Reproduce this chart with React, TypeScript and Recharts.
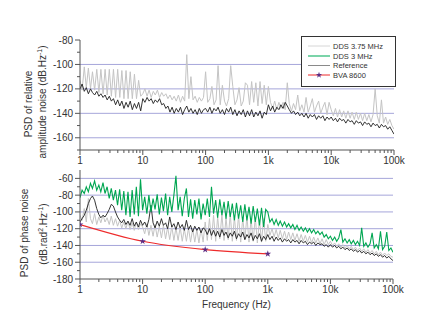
import { LineChart, Line, XAxis, YAxis, ReferenceLine, Legend, Symbols } from "recharts";

// frequency grid (Hz), 30 points per decade
const freqHz = [
  1, 1.08, 1.17, 1.26, 1.36, 1.47, 1.58, 1.71, 1.85, 2, 2.15, 2.33, 2.51, 2.71, 2.93, 3.16, 3.41, 3.69, 3.98, 4.3, 4.64, 5.01, 5.41, 5.84, 6.31, 6.81, 7.36, 7.94, 8.58, 9.26,
  10, 10.8, 11.7, 12.6, 13.6, 14.7, 15.8, 17.1, 18.5, 20, 21.5, 23.3, 25.1, 27.1, 29.3, 31.6, 34.1, 36.9, 39.8, 43, 46.4, 50.1, 54.1, 58.4, 63.1, 68.1, 73.6, 79.4, 85.8, 92.6,
  100, 108, 117, 126, 136, 147, 158, 171, 185, 200, 215, 233, 251, 271, 293, 316, 341, 369, 398, 430, 464, 501, 541, 584, 631, 681, 736, 794, 858, 926,
  1000, 1080, 1170, 1260, 1360, 1470, 1580, 1710, 1850, 2000, 2150, 2330, 2510, 2710, 2930, 3160, 3410, 3690, 3980, 4300, 4640, 5010, 5410, 5840, 6310, 6810, 7360, 7940, 8580, 9260,
  10000, 10800, 11700, 12600, 13600, 14700, 15800, 17100, 18500, 20000, 21500, 23300, 25100, 27100, 29300, 31600, 34100, 36900, 39800, 43000, 46400, 50100, 54100, 58400, 63100, 68100, 73600, 79400, 85800, 92600,
  100000,
];

// top panel: PSD of relative amplitude noise (dB.Hz-1)
const ampDds375 = [
  -113, -121, -102, -119, -103, -120, -106, -121, -104, -123, -104, -124, -104, -125, -104, -126, -104, -127, -104, -127, -105, -128, -105, -128, -106, -128, -108, -128, -113, -126,
  -124, -120, -126, -121, -127, -122, -125, -121, -127, -123, -126, -124, -128, -125, -129, -126, -130, -125, -131, -126, -130, -92, -128, -110, -129, -126, -131, -127, -130, -127,
  -106, -131, -128, -118, -133, -129, -101, -133, -117, -130, -134, -128, -101, -118, -133, -129, -119, -134, -130, -115, -117, -133, -114, -131, -115, -134, -114, -132, -117, -133,
  -118, -131, -136, -130, -137, -131, -136, -131, -137, -115, -132, -138, -132, -137, -125, -138, -133, -139, -127, -139, -134, -128, -139, -134, -130, -140, -135, -131, -141, -131,
  -137, -142, -136, -143, -137, -143, -138, -144, -138, -144, -139, -145, -139, -145, -140, -146, -140, -146, -141, -147, -141, -120, -142, -148, -129, -148, -143, -149, -145, -150,
  -153,
];
const ampReference = [
  -120, -116, -122, -119, -124, -120, -123, -125, -122, -126, -124, -127, -125, -129, -126, -130, -128, -133, -129, -134, -130, -136, -131, -135, -130, -137, -132, -136, -131, -138,
  -128, -131, -127, -130, -128, -132, -129, -131, -128, -133, -132, -136, -134, -139, -135, -140, -136, -139, -135, -141, -137, -134, -139, -136, -140, -137, -141, -136, -140, -137,
  -136, -139, -135, -140, -136, -138, -135, -140, -137, -141, -136, -139, -135, -141, -137, -142, -138, -141, -137, -143, -138, -142, -137, -143, -139, -142, -138, -144, -139, -141,
  -133, -138, -134, -139, -135, -137, -133, -136, -131, -134, -137, -140, -138, -141, -139, -142, -140, -143, -140, -144, -141, -143, -141, -145, -142, -144, -142, -146, -143, -145,
  -143, -146, -144, -147, -144, -146, -145, -148, -145, -147, -146, -149, -146, -148, -147, -150, -147, -149, -148, -151, -148, -150, -149, -152, -149, -151, -150, -153, -151, -154,
  -157,
];

// bottom panel: PSD of phase noise (dB.rad2.Hz-1)
const phaseDds375 = [
  -104, -110, -96, -112, -84, -108, -114, -102, -115, -106, -113, -104, -112, -107, -115, -105, -116, -108, -117, -110, -119, -112, -120, -111, -121, -113, -122, -112, -121, -114,
  -118, -126, -114, -128, -116, -129, -115, -130, -117, -131, -116, -132, -118, -133, -117, -134, -119, -134, -118, -135, -120, -135, -119, -136, -120, -136, -121, -137, -120, -136,
  -112, -134, -108, -133, -104, -135, -106, -132, -103, -134, -107, -133, -102, -135, -106, -134, -104, -136, -107, -133, -105, -136, -108, -135, -106, -137, -109, -136, -108, -135,
  -115, -128, -120, -130, -121, -131, -122, -132, -123, -133, -124, -133, -125, -134, -126, -135, -127, -135, -128, -136, -129, -137, -130, -137, -131, -138, -132, -139, -133, -139,
  -135, -140, -137, -141, -138, -142, -139, -143, -140, -144, -141, -145, -142, -146, -143, -147, -144, -148, -145, -149, -146, -150, -147, -151, -148, -152, -149, -152, -150, -153,
  -154,
];
const phaseDds3 = [
  -83, -74, -78, -70, -76, -66, -72, -63, -74, -68, -76, -65, -78, -70, -84, -72, -86, -74, -92, -73, -98, -75, -104, -76, -106, -74, -103, -70, -105, -61,
  -98, -82, -102, -80, -100, -84, -97, -79, -103, -83, -99, -78, -104, -82, -100, -80, -57, -98, -82, -105, -84, -72, -106, -85, -108, -86, -103, -84, -109, -90,
  -104, -84, -106, -70, -102, -86, -107, -85, -104, -88, -108, -87, -106, -90, -110, -89, -108, -92, -112, -91, -110, -94, -114, -93, -112, -96, -116, -95, -118, -97,
  -100, -112, -108, -115, -109, -116, -111, -117, -112, -118, -114, -119, -115, -121, -116, -122, -118, -123, -119, -124, -120, -125, -121, -126, -123, -127, -124, -130, -127, -132,
  -129, -134, -130, -135, -131, -121, -136, -132, -137, -133, -138, -134, -139, -135, -140, -119, -141, -137, -142, -138, -125, -143, -139, -144, -123, -145, -141, -124, -146, -143,
  -148,
];
const phaseReference = [
  -112, -108, -104, -98, -90, -84, -81, -86, -96, -103, -107, -104, -106, -102, -97, -91, -93, -100, -106, -110, -113, -109, -115, -111, -116, -108, -117, -112, -118, -110,
  -116, -112, -118, -109, -92, -113, -119, -111, -117, -108, -116, -113, -120, -106, -118, -114, -121, -112, -119, -115, -122, -110, -121, -116, -124, -117, -122, -118, -125, -119,
  -121, -127, -120, -128, -122, -129, -123, -130, -121, -128, -124, -131, -125, -129, -123, -132, -126, -130, -124, -133, -127, -131, -125, -134, -128, -132, -126, -135, -129, -133,
  -127, -133, -129, -135, -130, -134, -131, -136, -132, -135, -133, -137, -133, -136, -134, -138, -134, -137, -135, -139, -136, -138, -136, -140, -137, -139, -138, -141, -139, -142,
  -139, -142, -140, -143, -141, -144, -142, -145, -143, -146, -144, -147, -145, -148, -146, -149, -147, -150, -148, -151, -149, -152, -150, -153, -151, -154, -152, -155, -153, -156,
  -158,
];
const bvaFreqHz = [1, 10, 100, 1000];
const bvaPhase = [-115, -135, -145, -150];

const freqMajorTicks = [1, 10, 100, 1000, 10000, 100000];
const freqMinorTicks = [
  2, 3, 4, 5, 6, 7, 8, 9, 20, 30, 40, 50, 60, 70, 80, 90, 200, 300, 400, 500, 600, 700, 800, 900,
  2000, 3000, 4000, 5000, 6000, 7000, 8000, 9000, 20000, 30000, 40000, 50000, 60000, 70000, 80000, 90000,
];
const ampTicks = [-80, -90, -100, -110, -120, -130, -140, -150, -160, -170];
const ampLabelled = [-80, -100, -120, -140, -160];
const ampGrid = [-100, -120, -140, -160];
const phaseTicks = [-60, -70, -80, -90, -100, -110, -120, -130, -140, -150, -160, -170, -180];
const phaseLabelled = [-60, -80, -100, -120, -140, -160, -180];
const phaseGrid = [-60, -80, -100, -120, -140, -160];
const seriesNames = ["DDS 3.75 MHz", "DDS 3 MHz", "Reference", "BVA 8600"];

const FONT = "'Liberation Sans', Arial, sans-serif";
const C = {
  dds375: "#c4c4c4",
  dds3: "#00a651",
  ref: "#1e1e1e",
  bva: "#ee2b2b",
  star: "#5b2c83",
  grid: "#a6a6da",
  axis: "#555",
  text: "#333",
};

const ampData = freqHz.map((f, i) => ({ f, dds375: ampDds375[i], ref: ampReference[i] }));
const phaseData = freqHz.map((f, i) => ({
  f,
  dds375: phaseDds375[i],
  dds3: phaseDds3[i],
  ref: phaseReference[i],
}));
const bvaData = bvaFreqHz.map((f, i) => ({ f, bva: bvaPhase[i] }));
const allFreqTicks = [...freqMajorTicks, ...freqMinorTicks].sort((a, b) => a - b);

const fmtFreq = (v: number) => (v >= 1000 ? `${v / 1000}k` : `${v}`);

function FreqTick(props: any) {
  const { x, y, payload } = props;
  const major = freqMajorTicks.includes(payload.value);
  return (
    <g>
      <line x1={x} y1={y} x2={x} y2={y + (major ? 5 : 3)} stroke={C.axis} />
      {major && (
        <text x={x} y={y + 14} textAnchor="middle" fontSize={10} fontFamily={FONT} fill={C.text}>
          {fmtFreq(payload.value)}
        </text>
      )}
    </g>
  );
}

function makeDbTick(labelled: number[]) {
  return (props: any) => {
    const { x, y, payload } = props;
    const major = labelled.includes(payload.value);
    return (
      <g>
        <line x1={x - (major ? 5 : 3)} y1={y} x2={x} y2={y} stroke={C.axis} />
        {major && (
          <text x={x - 7} y={y + 3.5} textAnchor="end" fontSize={10} fontFamily={FONT} fill={C.text}>
            {payload.value}
          </text>
        )}
      </g>
    );
  };
}

function renderLegend() {
  const rows = [10, 20, 29.5, 39];
  const colors = ["#d6d6d6", "#4fc68c", "#8a8a8a", C.bva];
  return (
    <svg width={96} height={52} style={{ display: "block" }}>
      <rect x={0.5} y={0.5} width={94} height={50} fill="#fff" stroke="#333" />
      {seriesNames.map((name, i) => (
        <g key={name}>
          <line x1={7} x2={29} y1={rows[i]} y2={rows[i]} stroke={colors[i]} strokeWidth={i === 1 ? 1.5 : 1} />
          {i === 3 && <Symbols cx={18} cy={rows[i]} type="star" size={12} fill={C.star} />}
          <text x={32} y={rows[i] + 2.7} fontSize={7.5} fontFamily={FONT} fill={C.text}>
            {name}
          </text>
        </g>
      ))}
    </svg>
  );
}

function StarDot(props: any) {
  const { cx, cy, index } = props;
  return <Symbols key={`star-${index}`} cx={cx} cy={cy} type="star" size={14} fill={C.star} />;
}

function frame(domain: [number, number]) {
  return [
    <XAxis
      key="top"
      xAxisId="top"
      orientation="top"
      type="number"
      scale="log"
      dataKey="f"
      domain={[1, 100000]}
      height={0}
      tick={false}
      tickLine={false}
      axisLine={{ stroke: C.axis, strokeWidth: 2 }}
      allowDataOverflow
    />,
    <YAxis
      key="right"
      yAxisId="right"
      orientation="right"
      width={0}
      domain={domain}
      tick={false}
      tickLine={false}
      axisLine={{ stroke: C.axis, strokeWidth: 1.5 }}
      allowDataOverflow
    />,
  ];
}

export default function App() {
  return (
    <div style={{ position: "absolute", left: 0, top: 0, width: 436, height: 332, background: "#fff", fontFamily: FONT }}>
      <div style={{ position: "absolute", left: 0, top: 0 }}>
        <LineChart width={436} height={332} data={ampData} margin={{ top: 40, right: 42, bottom: 152, left: 0 }}>
          {ampGrid.map((v) => (
            <ReferenceLine key={v} y={v} stroke={C.grid} strokeWidth={1} />
          ))}
          <XAxis
            dataKey="f"
            type="number"
            scale="log"
            domain={[1, 100000]}
            ticks={allFreqTicks}
            interval={0}
            height={30}
            tickSize={0}
            tickMargin={0}
            tickLine={false}
            tick={(p: any) => <FreqTick {...p} />}
            axisLine={{ stroke: C.axis }}
            allowDataOverflow
          />
          <YAxis
            type="number"
            domain={[-170, -80]}
            ticks={ampTicks}
            interval={0}
            width={80}
            tickSize={0}
            tickMargin={0}
            tickLine={false}
            tick={makeDbTick(ampLabelled)}
            axisLine={{ stroke: C.axis }}
            allowDataOverflow
            label={{
              content: () => (
                <g fontFamily={FONT} fontSize={10} fill={C.text}>
                  <text x={32} y={104} transform="rotate(-90 32 104)" textAnchor="middle">
                    PSD of relative
                  </text>
                  <text x={46} y={102} transform="rotate(-90 46 102)" textAnchor="middle">
                    amplitude noise (dB.Hz
                    <tspan dy={-4} fontSize={7}>-1</tspan>
                    <tspan dy={4}>)</tspan>
                  </text>
                </g>
              ),
            }}
          />
          {frame([-170, -80])}
          <Line dataKey="dds375" stroke={C.dds375} strokeWidth={1} dot={false} isAnimationActive={false} />
          <Line dataKey="ref" stroke={C.ref} strokeWidth={0.9} dot={false} isAnimationActive={false} />
          <Legend
            layout="horizontal"
            align="center"
            verticalAlign="middle"
            content={renderLegend}
            wrapperStyle={{ left: 301, top: 36, width: 96, height: 52 }}
          />
        </LineChart>
      </div>
      <div style={{ position: "absolute", left: 0, top: 0 }}>
        <LineChart width={436} height={332} data={phaseData} margin={{ top: 170, right: 43, bottom: 13, left: 0 }}>
          {phaseGrid.map((v) => (
            <ReferenceLine key={v} y={v} stroke={C.grid} strokeWidth={1} />
          ))}
          <XAxis
            dataKey="f"
            type="number"
            scale="log"
            domain={[1, 100000]}
            ticks={allFreqTicks}
            interval={0}
            height={40}
            tickSize={0}
            tickMargin={0}
            tickLine={false}
            tick={(p: any) => <FreqTick {...p} />}
            axisLine={{ stroke: C.axis }}
            allowDataOverflow
            label={{
              content: () => (
                <text x={236.5} y={308} textAnchor="middle" fontFamily={FONT} fontSize={10} fill={C.text}>
                  Frequency (Hz)
                </text>
              ),
            }}
          />
          <YAxis
            type="number"
            domain={[-180, -50]}
            ticks={phaseTicks}
            interval={0}
            width={80}
            tickSize={0}
            tickMargin={0}
            tickLine={false}
            tick={makeDbTick(phaseLabelled)}
            axisLine={{ stroke: C.axis }}
            allowDataOverflow
            label={{
              content: () => (
                <g fontFamily={FONT} fontSize={10} fill={C.text}>
                  <text x={28} y={233} transform="rotate(-90 28 233)" textAnchor="middle">
                    PSD of phase noise
                  </text>
                  <text x={46.5} y={234} transform="rotate(-90 46.5 234)" textAnchor="middle">
                    (dB.rad
                    <tspan dy={-4} fontSize={7}>2</tspan>
                    <tspan dy={4}>.Hz</tspan>
                    <tspan dy={-4} fontSize={7}>-1</tspan>
                    <tspan dy={4}>)</tspan>
                  </text>
                </g>
              ),
            }}
          />
          {frame([-180, -50])}
          <Line dataKey="dds375" stroke={C.dds375} strokeWidth={1} dot={false} isAnimationActive={false} />
          <Line dataKey="ref" stroke={C.ref} strokeWidth={0.9} dot={false} isAnimationActive={false} />
          <Line dataKey="dds3" stroke={C.dds3} strokeWidth={1.1} dot={false} isAnimationActive={false} />
          <Line
            data={bvaData}
            dataKey="bva"
            type="monotone"
            stroke={C.bva}
            strokeWidth={1.2}
            dot={(p: any) => <StarDot {...p} />}
            isAnimationActive={false}
          />
        </LineChart>
      </div>
    </div>
  );
}
